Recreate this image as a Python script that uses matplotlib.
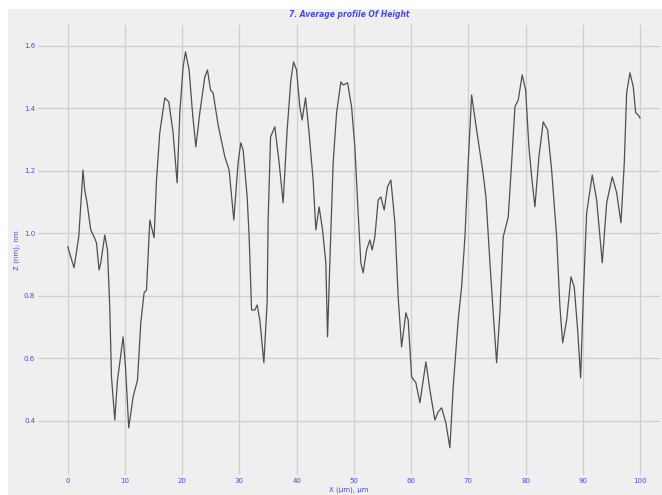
import numpy as np
import matplotlib
matplotlib.use("Agg")
import matplotlib.pyplot as plt
from matplotlib.patches import Rectangle

# profile (X in um, Z in nm)
x_pos = [0.0, 1.1, 1.92, 2.67, 2.97, 3.37, 4.02, 4.60, 5.02, 5.47, 5.77, 6.47, 6.94, 7.34, 7.64,
         8.22, 8.69, 9.09, 9.67, 10.09, 10.66, 11.42, 12.19, 12.76, 13.34, 13.76, 14.34, 15.09,
         15.51, 16.08, 16.96, 17.66, 18.41, 19.11, 19.58, 20.16, 20.58, 21.21, 21.80, 22.38,
         23.08, 23.95, 24.42, 24.95, 25.40, 26.28, 27.45, 28.20, 29.02, 29.77, 30.24, 30.65,
         31.35, 31.70, 32.12, 32.69, 33.10, 33.57, 34.27, 34.84, 35.02, 35.44, 36.19, 36.94,
         37.64, 38.34, 38.99, 39.46, 39.98, 40.56, 40.96, 41.56, 42.13, 42.88, 43.36, 43.93,
         44.53, 45.10, 45.40, 45.80, 46.38, 46.98, 47.73, 48.13, 48.90, 49.60, 50.17, 50.75,
         51.22, 51.63, 52.22, 52.80, 53.20, 53.67, 54.25, 54.72, 55.30, 55.89, 56.47, 57.17,
         57.74, 58.34, 59.09, 59.49, 60.09, 60.84, 61.54, 62.59, 63.29, 64.16, 64.74, 65.33,
         66.08, 66.78, 67.36, 68.23, 68.83, 69.41, 69.98, 70.58, 71.45, 72.50, 73.08, 73.78,
         74.35, 74.95, 75.52, 76.10, 76.98, 77.57, 78.15, 78.72, 79.42, 80.02, 80.59, 81.07,
         81.64, 82.34, 83.09, 83.86, 84.56, 85.44, 86.01, 86.49, 87.19, 87.94, 88.51, 89.11,
         89.63, 90.09, 90.68, 91.66, 92.43, 93.41, 94.18, 95.16, 95.93, 96.68, 97.26, 97.67,
         98.25, 98.83, 99.25, 99.70, 100.0]
z_val = [0.957, 0.890, 0.989, 1.203, 1.139, 1.098, 1.011, 0.989, 0.970, 0.883, 0.906, 0.995,
         0.947, 0.765, 0.541, 0.403, 0.531, 0.586, 0.669, 0.573, 0.378, 0.477, 0.531, 0.714,
         0.810, 0.819, 1.043, 0.986, 1.171, 1.322, 1.434, 1.421, 1.322, 1.162, 1.386, 1.533,
         1.581, 1.523, 1.386, 1.277, 1.386, 1.501, 1.523, 1.459, 1.450, 1.347, 1.245, 1.203,
         1.043, 1.226, 1.290, 1.267, 1.117, 0.989, 0.755, 0.755, 0.771, 0.723, 0.586, 0.778,
         1.043, 1.309, 1.341, 1.226, 1.098, 1.331, 1.491, 1.549, 1.523, 1.405, 1.363, 1.434,
         1.331, 1.171, 1.011, 1.085, 1.011, 0.906, 0.669, 0.906, 1.226, 1.386, 1.485, 1.475,
         1.482, 1.405, 1.277, 1.066, 0.906, 0.874, 0.947, 0.979, 0.947, 0.989, 1.107, 1.117,
         1.075, 1.149, 1.171, 1.034, 0.797, 0.637, 0.746, 0.723, 0.541, 0.522, 0.458, 0.589,
         0.499, 0.403, 0.429, 0.442, 0.394, 0.314, 0.509, 0.723, 0.829, 0.989, 1.226, 1.443,
         1.331, 1.203, 1.117, 0.906, 0.746, 0.586, 0.746, 0.989, 1.053, 1.226, 1.405, 1.427,
         1.507, 1.459, 1.277, 1.181, 1.085, 1.245, 1.357, 1.331, 1.203, 0.989, 0.765, 0.650,
         0.723, 0.861, 0.829, 0.691, 0.538, 0.797, 1.066, 1.187, 1.107, 0.906, 1.098, 1.181,
         1.130, 1.034, 1.226, 1.450, 1.514, 1.469, 1.386, 1.379, 1.370]

x_ticks = [0, 10, 20, 30, 40, 50, 60, 70, 80, 90, 100]
y_ticks = [0.4, 0.6, 0.8, 1.0, 1.2, 1.4, 1.6]
y_tick_labels = ["0.4", "0.6", "0.8", "1.0", "1.2", "1.4", "1.6"]

bg = "#efefef"
blue = "#4a4ad8"

fig = plt.figure(figsize=(6.62, 4.95), dpi=100)
fig.patch.set_facecolor("white")
fig.patches.append(Rectangle((8 / 662, 0), 1, (495 - 9) / 495, transform=fig.transFigure,
                             facecolor=bg, edgecolor="none", zorder=-1))

ax = fig.add_axes([38 / 662, 20 / 495, 622 / 662, 450 / 495])
ax.set_facecolor(bg)
ax.plot(x_pos, z_val, color="#505050", linewidth=0.9)

ax.set_xlim(-5.2, 103.5)
ax.set_ylim(0.227, 1.667)
ax.set_xticks(x_ticks)
ax.set_yticks(y_ticks)
ax.set_yticklabels(y_tick_labels)
ax.tick_params(length=0, labelsize=5, labelcolor=blue, pad=2)
ax.grid(True, color="#cfcfcf", linewidth=0.9)
ax.set_axisbelow(True)
for s in ax.spines.values():
    s.set_visible(False)

ax.set_title("7. Average profile Of Height", fontsize=5.5, color=blue,
             fontweight="bold", fontstyle="italic", pad=6)
ax.set_ylabel("Z (nm), nm", fontsize=5, color=blue, labelpad=3)
ax.set_xlabel("X (µm), µm", fontsize=5, color=blue, labelpad=2)

fig.savefig("out.png", dpi=100)
